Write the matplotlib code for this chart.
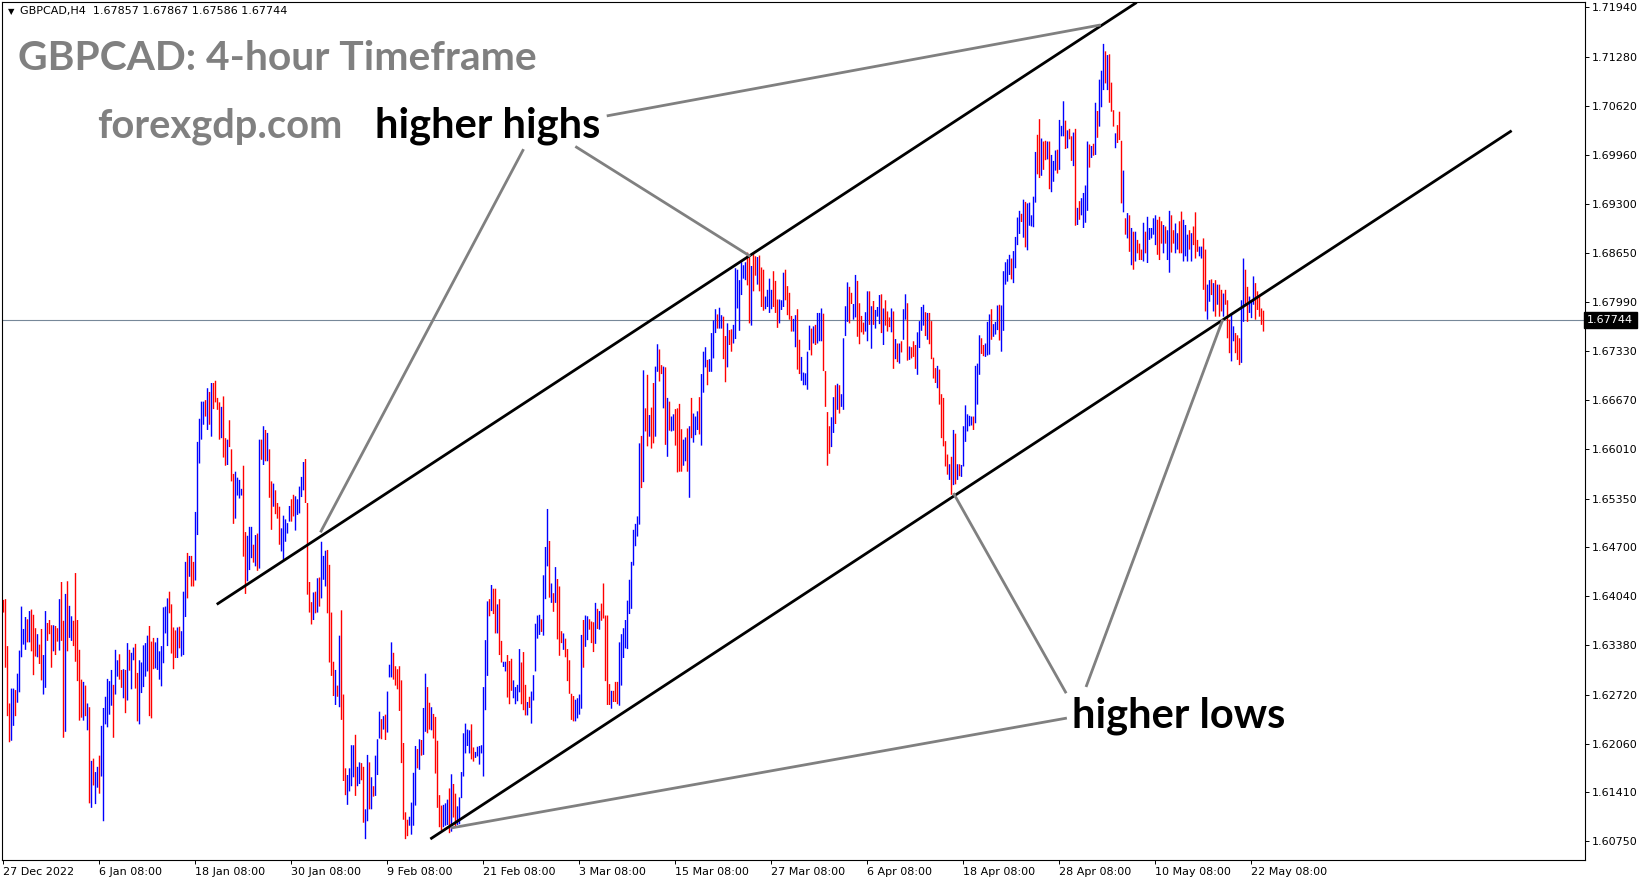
import numpy as np
import matplotlib
matplotlib.use("Agg")
import matplotlib.pyplot as plt

# 4-hour bars: highs / lows in pips above 1.60000,
# direction 'b' = up bar (blue), 'r' = down bar (red). One chunk per ~70 bars.
hi_1 = [399, 400, 337, 260, 280, 280, 278, 300, 331, 390, 360, 376, 373, 384, 386, 379, 361, 353, 339, 360,
        325, 384, 368, 372, 365, 365, 364, 361, 400, 423, 371, 407, 424, 391, 377, 371, 435, 372, 332, 292,
        289, 284, 260, 255, 183, 186, 168, 175, 190, 230, 254, 269, 293, 290, 305, 285, 332, 318, 326, 305,
        306, 305, 341, 332, 328, 335, 340, 301, 318]
lo_1 = [382, 308, 243, 208, 210, 230, 243, 261, 275, 322, 339, 332, 342, 342, 330, 298, 323, 322, 313, 291,
        272, 281, 344, 353, 308, 330, 325, 343, 331, 344, 214, 222, 330, 348, 344, 337, 316, 290, 237, 241,
        237, 243, 224, 126, 120, 150, 125, 147, 139, 162, 102, 232, 228, 245, 257, 214, 272, 296, 292, 281,
        267, 247, 264, 304, 279, 318, 280, 236, 232]
dir_1 = "rrrrbbrbbb" "bbrbrrrbrr" "bbrrrbrrbr" "rbrbbrrrrr" "brbrbrbbrb" "bbbbbrbbrr" "brbrbbrrb"

hi_2 = [315, 338, 341, 351, 364, 343, 348, 342, 348, 330, 337, 389, 390, 401, 410, 393, 362, 358, 362, 363,
        357, 410, 450, 462, 458, 458, 450, 517, 611, 642, 665, 665, 667, 683, 678, 690, 690, 693, 670, 664,
        658, 672, 616, 614, 640, 601, 568, 571, 563, 560, 548, 579, 490, 485, 497, 497, 473, 486, 488, 614,
        614, 632, 627, 623, 601, 558, 555, 546, 529, 524]
lo_2 = [274, 282, 296, 303, 243, 240, 306, 307, 305, 292, 283, 314, 354, 337, 381, 327, 306, 321, 321, 334,
        323, 325, 376, 401, 430, 417, 417, 425, 486, 582, 614, 634, 645, 627, 634, 618, 655, 664, 654, 614,
        616, 590, 579, 580, 604, 558, 501, 508, 539, 535, 539, 457, 407, 424, 439, 455, 449, 444, 438, 441,
        587, 580, 585, 585, 536, 493, 524, 514, 508, 473]
dir_2 = "bbbbrrrbbb" "bbbbrrrrbr" "bbbrbrrbbb" "bbrbrbrrrr" "brrbrrrbbb" "brrbbbrbrb" "rbrbrrbrrr"

hi_3 = [495, 512, 507, 502, 525, 534, 540, 538, 534, 551, 564, 584, 588, 529, 423, 396, 409, 410, 428, 429,
        477, 458, 465, 466, 446, 382, 316, 305, 284, 351, 385, 272, 173, 164, 173, 204, 204, 218, 175, 181,
        180, 175, 118, 191, 181, 161, 149, 190, 212, 249, 239, 243, 245, 276, 312, 342, 328, 310, 306, 310,
        291, 207, 114, 104, 108, 127, 167, 203, 199, 212]
lo_3 = [464, 453, 477, 488, 504, 504, 511, 492, 513, 515, 537, 546, 529, 406, 382, 366, 372, 381, 382, 390,
        401, 426, 417, 381, 315, 297, 270, 258, 269, 255, 238, 156, 137, 124, 142, 149, 161, 136, 149, 152,
        157, 100, 78, 102, 118, 118, 135, 136, 164, 213, 212, 225, 211, 221, 295, 295, 292, 284, 279, 250,
        180, 104, 78, 82, 96, 84, 96, 123, 173, 171]
dir_3 = "bbbbbrrbbb" "bbrrrrbrbr" "bbbrrrrbrb" "rrrbbbbrbb" "rrbbrbrbbb" "rbrbbbrrrr" "rrrrbbbbrb"

hi_4 = [211, 254, 300, 282, 261, 255, 246, 242, 210, 137, 123, 124, 126, 131, 146, 165, 152, 139, 122, 134,
        168, 220, 233, 225, 224, 232, 201, 195, 202, 203, 204, 282, 345, 397, 400, 419, 414, 414, 393, 400,
        344, 316, 316, 325, 317, 320, 291, 282, 285, 333, 315, 329, 285, 262, 269, 276, 298, 367, 378, 379,
        373, 432, 470, 521, 478, 421, 408, 443, 427, 417]
lo_4 = [190, 191, 222, 220, 225, 224, 213, 166, 120, 94, 90, 94, 96, 97, 86, 88, 107, 95, 97, 98,
        133, 162, 193, 203, 193, 185, 182, 187, 189, 178, 193, 162, 251, 297, 377, 384, 380, 354, 354, 325,
        315, 309, 303, 268, 259, 277, 267, 259, 263, 275, 259, 251, 244, 244, 254, 233, 264, 303, 347, 352,
        356, 351, 400, 444, 402, 395, 383, 395, 346, 324]
dir_4 = "rbbrrbrrrr" "rbbbrbrrbb" "bbbbbrrbbb" "bbbbrbrrbr" "rbbrrrbbbb" "rrrbrbbbbb" "rbbbrbrbrr"

hi_5 = [357, 354, 347, 333, 318, 273, 270, 265, 267, 272, 352, 372, 378, 377, 373, 370, 369, 395, 387, 384,
        394, 421, 378, 378, 286, 277, 277, 289, 289, 342, 353, 361, 372, 398, 426, 450, 493, 501, 511, 609,
        619, 707, 656, 701, 647, 657, 690, 712, 742, 735, 714, 712, 711, 670, 665, 645, 648, 655, 656, 662,
        628, 614, 617, 629, 632, 670, 649, 645, 652, 671]
lo_5 = [341, 332, 322, 290, 273, 238, 236, 236, 240, 245, 253, 308, 336, 345, 359, 341, 329, 340, 360, 359,
        371, 374, 290, 258, 258, 253, 262, 262, 259, 257, 284, 321, 334, 333, 380, 387, 445, 471, 484, 500,
        549, 557, 625, 605, 618, 602, 609, 618, 705, 692, 702, 656, 607, 591, 626, 625, 626, 606, 570, 571,
        571, 579, 585, 571, 536, 616, 610, 620, 627, 621]
dir_5 = "rbrrrrrbbb" "brbbrrrbrb" "rrrrrbrrrb" "bbbbbbbbbb" "rbrrbrrbbr" "rbrbrbbrrr" "rbbrbrbbbr"

hi_6 = [702, 732, 738, 721, 722, 757, 774, 789, 782, 791, 781, 779, 753, 770, 761, 762, 768, 844, 842, 828,
        852, 848, 852, 865, 860, 847, 863, 860, 859, 861, 845, 842, 806, 815, 830, 815, 840, 827, 802, 802,
        801, 838, 842, 820, 811, 780, 776, 781, 789, 748, 725, 704, 703, 732, 767, 763, 766, 768, 784, 784,
        790, 783, 706, 651, 632, 644, 671, 687, 689, 687]
lo_6 = [606, 677, 711, 687, 705, 705, 723, 757, 763, 763, 763, 722, 691, 711, 741, 732, 743, 749, 790, 760,
        808, 830, 828, 821, 770, 767, 813, 834, 822, 813, 792, 787, 789, 792, 784, 789, 792, 784, 764, 770,
        788, 792, 801, 781, 775, 759, 759, 738, 708, 702, 693, 687, 687, 681, 734, 727, 743, 741, 743, 746,
        746, 706, 658, 579, 595, 604, 623, 635, 654, 649]
dir_6 = "bbbrbbbbrb" "brrbrrbbbb" "bbbrrbrrbr" "rrbbbbrrrb" "bbrrrrbbrr" "bbbbbrbrbb" "brrrrbbrbr"

hi_7 = [675, 750, 793, 825, 819, 811, 796, 835, 827, 797, 780, 771, 785, 813, 813, 793, 800, 788, 792, 808,
        809, 790, 801, 786, 778, 790, 786, 749, 743, 743, 746, 789, 809, 797, 739, 738, 746, 741, 758, 773,
        792, 795, 785, 784, 784, 773, 724, 710, 713, 708, 675, 670, 612, 594, 581, 591, 627, 622, 581, 581,
        580, 632, 660, 648, 646, 645, 645, 713, 716, 754]
lo_7 = [658, 654, 753, 772, 770, 796, 775, 778, 752, 742, 758, 755, 759, 746, 768, 736, 768, 763, 779, 769,
        757, 741, 767, 759, 765, 758, 709, 722, 718, 716, 731, 748, 775, 720, 721, 723, 725, 709, 701, 737,
        760, 767, 753, 748, 742, 722, 696, 690, 683, 661, 616, 605, 578, 567, 560, 540, 553, 554, 560, 565,
        564, 578, 611, 625, 632, 633, 627, 636, 661, 701]
dir_7 = "bbbbrrbbrr" "rrbbrbrbbb" "rbrrrbrbrb" "rbbrbrrrbb" "bbrbrrrrbr" "rrrrbrbrbr" "bbbbbbrbbb"

hi_8 = [750, 741, 743, 772, 782, 789, 769, 772, 794, 795, 794, 840, 852, 856, 862, 857, 867, 886, 912, 921,
        917, 936, 933, 931, 932, 915, 940, 1000, 1023, 1044, 1018, 1014, 1015, 1014, 1014, 996, 988, 1002, 1003, 1043,
        1035, 1068, 1042, 1029, 1031, 1021, 1026, 1031, 925, 934, 938, 945, 955, 1014, 1010, 1008, 1011, 1066, 1055, 1097,
        1109, 1145, 1135, 1130, 1131, 1093, 1056, 1025, 1036, 1054]
lo_8 = [729, 726, 725, 727, 728, 748, 752, 755, 761, 747, 732, 760, 822, 826, 835, 829, 824, 844, 875, 890,
        906, 885, 872, 868, 901, 900, 899, 932, 970, 965, 968, 976, 989, 990, 950, 946, 960, 975, 971, 976,
        1021, 1021, 1004, 1005, 1017, 988, 981, 901, 902, 909, 915, 898, 905, 921, 979, 992, 995, 996, 1019, 1034,
        1060, 1083, 1092, 1083, 1066, 1054, 1034, 1005, 1012, 1016]
dir_8 = "rrbbbrbbbr" "bbbbbrbbbb" "rbrbbbbbrr" "brrbrbbbrb" "bbrbrrbrbr" "bbbbrbrbrb" "bbrbrrrbrr"

hi_9 = [1015, 975, 911, 918, 915, 898, 893, 893, 882, 877, 869, 905, 893, 913, 898, 898, 911, 915, 909, 913,
        907, 902, 900, 895, 921, 915, 895, 904, 891, 907, 920, 909, 902, 889, 895, 891, 900, 919, 882, 873,
        873, 884, 869, 822, 828, 829, 824, 828, 822, 822, 815, 810, 815, 801, 775, 784, 766, 757, 754, 750,
        801, 857, 842, 819, 806, 801, 833, 824, 813, 806, 790, 787]
lo_9 = [931, 919, 889, 884, 866, 848, 842, 853, 864, 855, 855, 853, 864, 851, 882, 884, 889, 875, 862, 855,
        877, 864, 877, 855, 838, 865, 877, 864, 869, 864, 864, 853, 860, 853, 869, 853, 875, 857, 866, 860,
        857, 815, 786, 775, 799, 808, 786, 779, 795, 779, 786, 779, 795, 750, 730, 719, 746, 730, 721, 714,
        717, 772, 793, 772, 784, 777, 795, 775, 788, 779, 768, 759]
dir_9 = "rbrbrbrbrr" "rbrbbbbbrr" "rbrbbrrbbr" "rbbbrbrrrb" "brrbbrbrbr" "rbrrrbbrrr" "bbrrbbbrrrrr"

date_ticks = [0, 48, 96, 144, 192, 240, 288, 336, 384, 432, 480, 528, 576, 624]
date_labels = ["27 Dec 2022", "6 Jan 08:00", "18 Jan 08:00", "30 Jan 08:00", "9 Feb 08:00",
               "21 Feb 08:00", "3 Mar 08:00", "15 Mar 08:00", "27 Mar 08:00", "6 Apr 08:00",
               "18 Apr 08:00", "28 Apr 08:00", "10 May 08:00", "22 May 08:00"]
price_ticks = [1.71940, 1.71280, 1.70620, 1.69960, 1.69300, 1.68650, 1.67990, 1.67330, 1.66670,
               1.66010, 1.65350, 1.64700, 1.64040, 1.63380, 1.62720, 1.62060, 1.61410, 1.60750]
last_price = 1.67744
header = "GBPCAD,H4  1.67857 1.67867 1.67586 1.67744"

# channel lines (bar index, price)
upper_line = ([107.2, 566.0], [1.63940, 1.71996])
lower_line = ([214.0, 753.5], [1.60792, 1.70275])
# grey pointer lines from the labels
pointers = [
    ([302.3, 547.9], [1.70487, 1.71701]),
    ([259.7, 158.8], [1.70021, 1.64913]),
    ([286.5, 372.8], [1.70064, 1.68610]),
    ([531.0, 475.3], [1.62754, 1.65407]),
    ([541.5, 609.4], [1.62839, 1.67735]),
    ([531.0, 224.5], [1.62401, 1.60933]),
]

highs = 1.6 + np.array(hi_1 + hi_2 + hi_3 + hi_4 + hi_5 + hi_6 + hi_7 + hi_8 + hi_9) / 1e4
lows = 1.6 + np.array(lo_1 + lo_2 + lo_3 + lo_4 + lo_5 + lo_6 + lo_7 + lo_8 + lo_9) / 1e4
dirs = dir_1 + dir_2 + dir_3 + dir_4 + dir_5 + dir_6 + dir_7 + dir_8 + dir_9
assert len(highs) == len(lows) == len(dirs), (len(highs), len(lows), len(dirs))
bars = np.arange(len(highs))
colors = ['#0000ff' if d == 'b' else '#ff0000' for d in dirs]

fig = plt.figure(figsize=(16.49, 8.84), dpi=100)
ax = fig.add_axes([2 / 1649, 24 / 884, 1583 / 1649, 858 / 884])

ax.axhline(last_price, color='#778899', lw=0.8, zorder=1)
# 2 px per bar, centred on pixel columns
ax.vlines(bars, lows, highs, colors=colors, lw=1.0, snap=False, zorder=2)

ax.plot(*upper_line, color='black', lw=2.0, zorder=3)
ax.plot(*lower_line, color='black', lw=2.0, zorder=3)
for xs, ys in pointers:
    ax.plot(xs, ys, color='#808080', lw=2.0, zorder=3)

ax.set_xlim(-0.75, 790.75)
ax.set_ylim(1.60500, 1.72012)

ax.set_xticks(date_ticks)
ax.set_xticklabels(date_labels, ha='left')
ax.set_yticks(price_ticks)
ax.set_yticklabels([f"{p:.5f}" for p in price_ticks])
ax.yaxis.tick_right()
ax.tick_params(axis='y', length=3, width=0.7, pad=2, labelsize=8, colors='black')
ax.tick_params(axis='x', length=3, width=0.7, pad=2, labelsize=8, colors='black')
for s in ax.spines.values():
    s.set_linewidth(0.8)
    s.set_color('black')

ax.annotate(f"{last_price:.5f}", xy=(1, last_price), xycoords=('axes fraction', 'data'),
            xytext=(1.5, 0), textcoords='offset points', ha='left', va='center',
            color='white', fontsize=8, annotation_clip=False,
            bbox=dict(boxstyle='square,pad=0.3', fc='black', ec='black'))

ax.text(0.0035, 0.9855, "\u25bc", transform=ax.transAxes, fontsize=6, va='baseline')
ax.text(0.0114, 0.9855, header, transform=ax.transAxes, fontsize=8, va='baseline')

big = dict(family='Lato', weight='bold', va='baseline', transform=ax.transAxes)
ax.text(0.0101, 0.9207, "GBPCAD: 4-hour Timeframe", color='#808080', fontsize=29.3, **big)
ax.text(0.0600, 0.8415, "forexgdp.com", color='#808080', fontsize=28.7, **big)
ax.text(0.2356, 0.8415, "higher highs", color='black', fontsize=30, **big)
ax.text(0.676, 0.155, "higher lows", color='black', fontsize=30, **big)

fig.savefig("out.png", dpi=100)
